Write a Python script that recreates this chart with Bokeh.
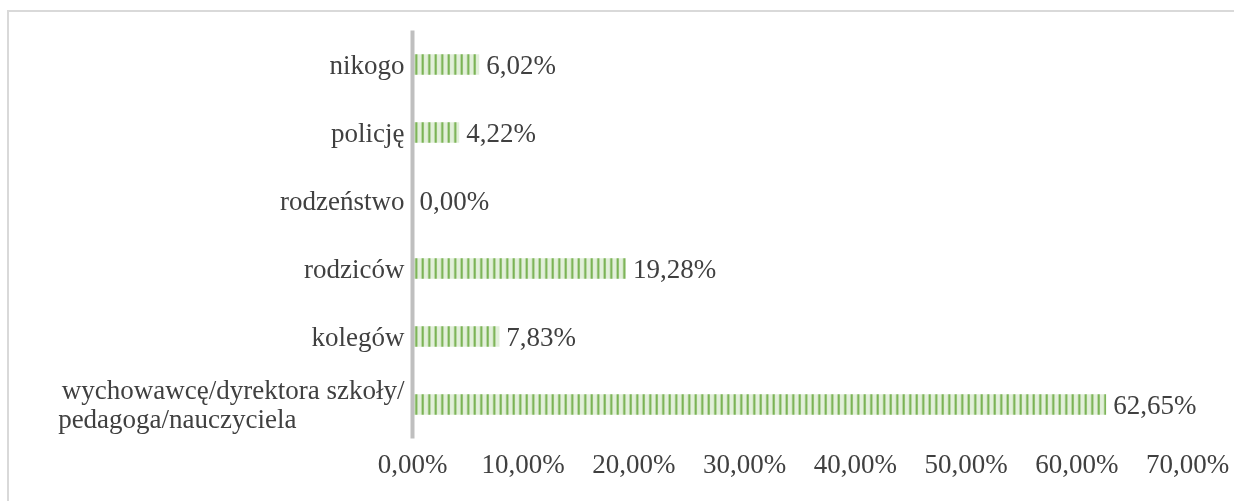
from bokeh.plotting import figure
from bokeh.models import FixedTicker, ColumnDataSource, FactorRange, Range1d
from bokeh.core.properties import value
from bokeh.embed import file_html
from bokeh.resources import INLINE

# second line padded with figure spaces so both lines of the label start at the same x
categories = ["wychowawcę/dyrektora szkoły/\npedagoga/nauczyciela" + "\u2007" * 8, "kolegów", "rodziców",
              "rodzeństwo", "policję", "nikogo"]
values = [62.65, 7.83, 19.28, 0.00, 4.22, 6.02]
tick_values = [0, 10, 20, 30, 40, 50, 60, 70]
tick_labels = ["0,00%", "10,00%", "20,00%", "30,00%", "40,00%", "50,00%", "60,00%", "70,00%"]

FONT = "Liberation Serif"
TXT = "#404040"
FS = "27px"

src = ColumnDataSource(dict(
    cat=categories,
    val=values,
    lab=[("%.2f%%" % v).replace(".", ",") for v in values],
))

# the chart area continues past the right and bottom window edges, as in the original crop
p = figure(width=1240, height=500, output_backend="svg", toolbar_location=None,
           y_range=FactorRange(*categories, range_padding=0),
           x_range=Range1d(0, 75.6),
           min_border_left=403, min_border_right=0, min_border_top=18, min_border_bottom=74,
           styles={"position": "fixed", "left": "7px", "top": "10px",
                   "border-top": "2px solid #d9d9d9", "border-left": "2px solid #d9d9d9"})
p.outline_line_color = None
p.xgrid.grid_line_color = None
p.ygrid.grid_line_color = None

p.hbar(y="cat", right="val", left=0, height=0.3, source=src,
       fill_color="#e2efda", line_color=None,
       hatch_pattern="vertical_line", hatch_color="#70ad47", hatch_scale=6.5, hatch_weight=2)

p.text(x="val", y="cat", text="lab", source=src, x_offset=7,
       text_align="left", text_baseline="middle",
       text_font=value(FONT), text_font_size=FS, text_color=TXT)

xa = p.xaxis[0]
xa.ticker = FixedTicker(ticks=tick_values)
xa.major_label_overrides = {t: l for t, l in zip(tick_values, tick_labels)}
xa.axis_line_color = None
xa.major_tick_line_color = None
xa.minor_tick_line_color = None
xa.major_label_standoff = 4
xa.major_label_text_font = FONT
xa.major_label_text_font_size = FS
xa.major_label_text_color = TXT

ya = p.yaxis[0]
ya.axis_line_color = "#bfbfbf"
ya.axis_line_width = 4
ya.major_tick_line_color = None
ya.minor_tick_line_color = None
ya.major_label_standoff = 2
ya.major_label_text_font = FONT
ya.major_label_text_font_size = FS
ya.major_label_text_color = TXT
ya.major_label_text_line_height = 0.97

open("out.html", "w").write(file_html(p, INLINE))
